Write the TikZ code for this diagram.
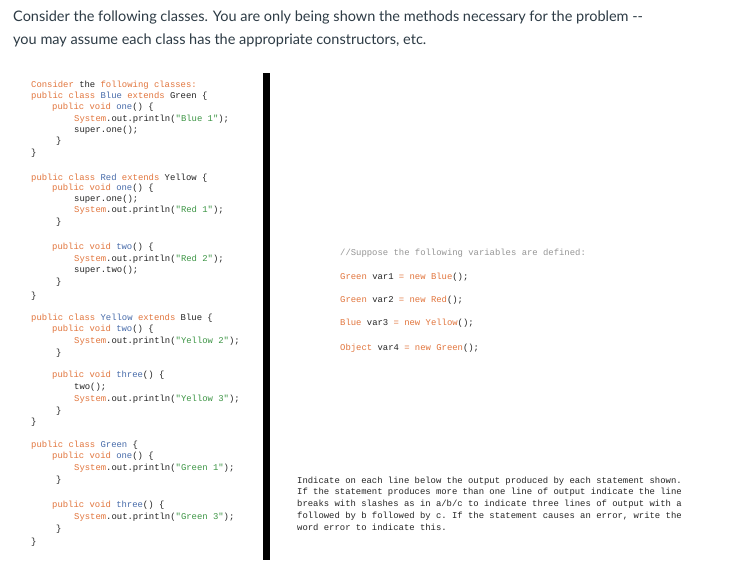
\documentclass[tikz,border=0pt]{standalone}
\usepackage{fontspec}
\setmainfont{Lato}
\setmonofont{Liberation Mono}
\definecolor{kw}{RGB}{226,118,62}
\definecolor{cl}{RGB}{72,108,170}
\definecolor{st}{RGB}{62,150,70}
\definecolor{cm}{RGB}{150,150,150}
\definecolor{tx}{RGB}{45,59,69}
\newcommand{\K}[1]{\textcolor{kw}{#1}}
\newcommand{\C}[1]{\textcolor{cl}{#1}}
\newcommand{\Sg}[1]{\textcolor{st}{#1}}
\newcommand{\Ln}[3]{\node[code] at (#1pt,-#2pt-3pt) {#3};}
\tikzset{code/.style={anchor=base west,inner sep=0pt,font=\ttfamily\fontsize{8.9}{10}\selectfont,text=black!85},
 head/.style={anchor=base west,inner sep=0pt,font=\fontsize{14.5}{17}\selectfont,text=tx}}
\begin{document}
\begin{tikzpicture}[x=1pt,y=1pt]
\useasboundingbox[fill=white] (0,0) rectangle (735,-561);
\node[head] (h1) at (13,-22) {Consider the following classes. You are only being shown the methods necessary for the problem {-}-};
\node[head] (h2) at (13,-45) {you may assume each class has the appropriate constructors, etc.};
\fill[black] (263,-73) rectangle (270,-560);
\Ln{31}{85}{\K{Consider} the \K{following} \K{classes:}}
\Ln{31}{96}{\K{public class} \C{Blue} \K{extends} Green \{}
\Ln{52}{107}{\K{public void} \C{one}() \{}
\Ln{74}{119}{\K{System}.out.println(\Sg{"Blue 1"});}
\Ln{74}{130}{super.one();}
\Ln{56}{141}{\}}
\Ln{31}{153}{\}}
\Ln{31}{178}{\K{public class} \C{Red} \K{extends} Yellow \{}
\Ln{52}{188}{\K{public void} \C{one}() \{}
\Ln{74}{199}{super.one();}
\Ln{74}{210}{\K{System}.out.println(\Sg{"Red 1"});}
\Ln{56}{222}{\}}
\Ln{52}{246}{\K{public void} \C{two}() \{}
\Ln{74}{258}{\K{System}.out.println(\Sg{"Red 2"});}
\Ln{74}{269}{super.two();}
\Ln{56}{281}{\}}
\Ln{31}{295}{\}}
\Ln{31}{317}{\K{public class} \C{Yellow} \K{extends} Blue \{}
\Ln{52}{328}{\K{public void} \C{two}() \{}
\Ln{74}{340}{\K{System}.out.println(\Sg{"Yellow 2"});}
\Ln{56}{352}{\}}
\Ln{52}{374}{\K{public void} \C{three}() \{}
\Ln{74}{386}{two();}
\Ln{74}{398}{\K{System}.out.println(\Sg{"Yellow 3"});}
\Ln{56}{410}{\}}
\Ln{31}{421}{\}}
\Ln{31}{444}{\K{public class} \C{Green} \{}
\Ln{52}{455}{\K{public void} \C{one}() \{}
\Ln{74}{467}{\K{System}.out.println(\Sg{"Green 1"});}
\Ln{56}{479}{\}}
\Ln{52}{504}{\K{public void} \C{three}() \{}
\Ln{74}{516}{\K{System}.out.println(\Sg{"Green 3"});}
\Ln{56}{528}{\}}
\Ln{31}{541}{\}}
\Ln{340}{252}{\textcolor{cm}{//Suppose the following variables are defined:}}
\Ln{340}{276}{\K{Green} var1 \K{= new} \K{Blue}();}
\Ln{340}{299}{\K{Green} var2 \K{= new} \K{Red}();}
\Ln{340}{322}{\K{Blue} var3 \K{= new} \K{Yellow}();}
\Ln{340}{347}{\K{Object} var4 \K{= new} \K{Green}();}
\Ln{297}{480}{Indicate on each line below the output produced by each statement shown.}
\Ln{297}{491}{If the statement produces more than one line of output indicate the line}
\Ln{297}{503}{breaks with slashes as in a/b/c to indicate three lines of output with a}
\Ln{297}{515}{followed by b followed by c. If the statement causes an error, write the}
\Ln{297}{527}{word error to indicate this.}
\end{tikzpicture}
\end{document}
